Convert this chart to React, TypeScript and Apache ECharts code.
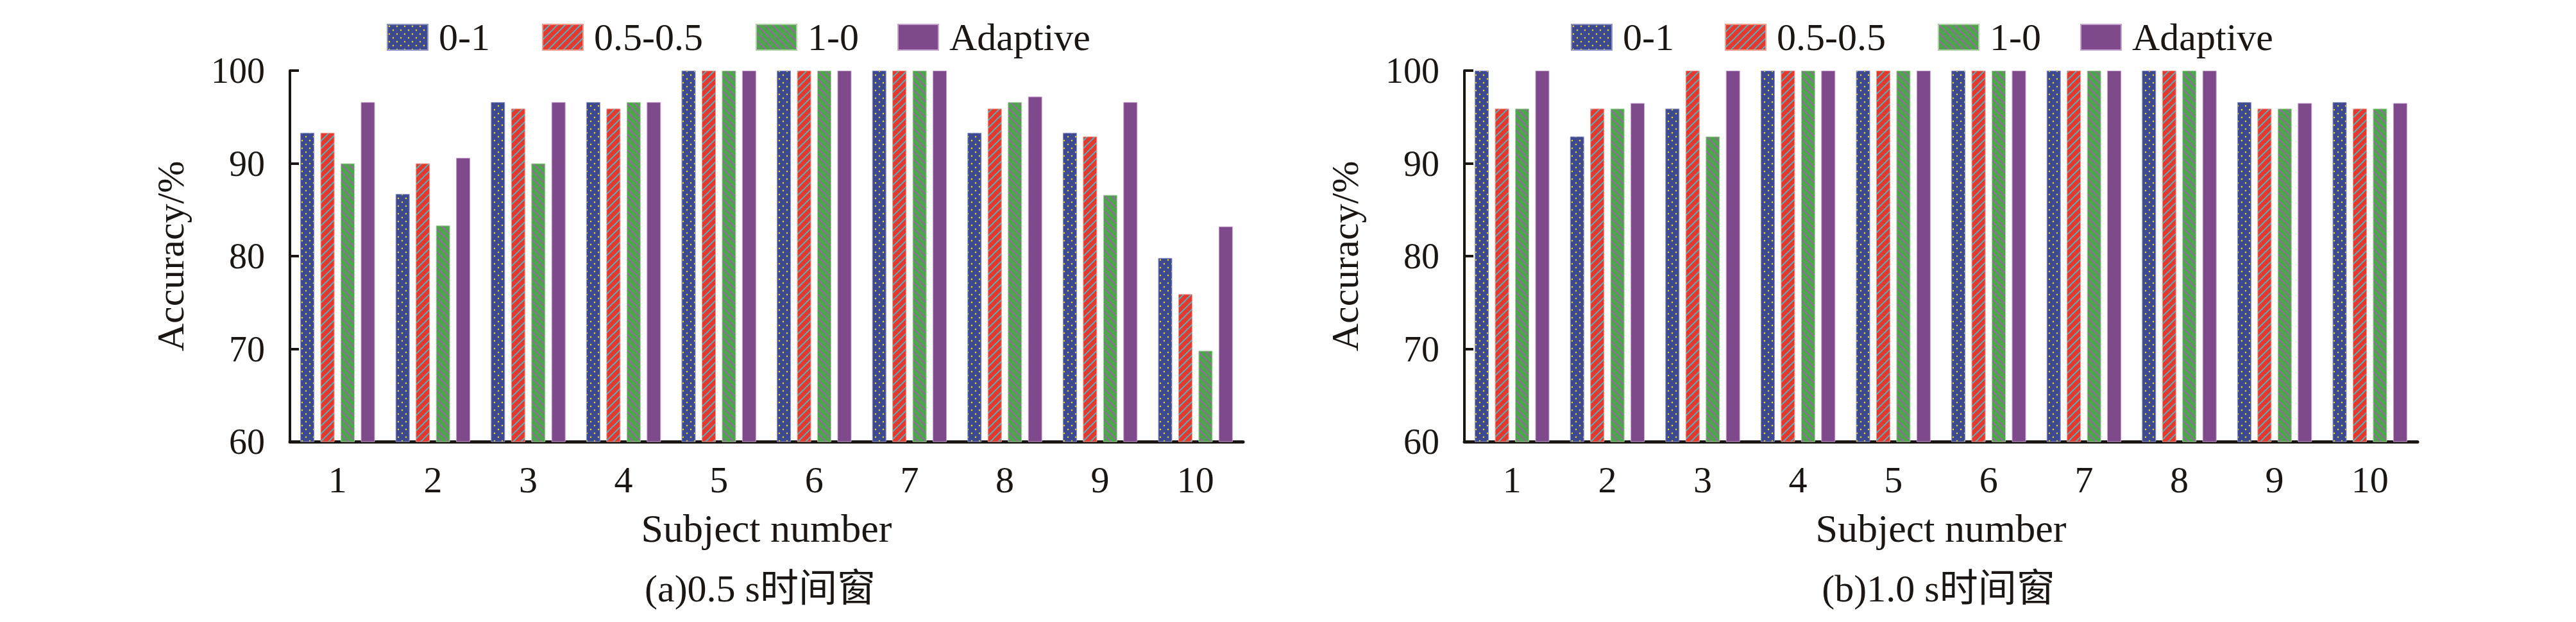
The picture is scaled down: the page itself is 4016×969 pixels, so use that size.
import React, { useEffect, useRef } from 'react';
import * as echarts from 'echarts';

const categories = ['1', '2', '3', '4', '5', '6', '7', '8', '9', '10'];
const seriesNames = ['0-1', '0.5-0.5', '1-0', 'Adaptive'];

// (a) 0.5 s time window
const win05_01 = [93.3, 86.7, 96.6, 96.6, 100, 100, 100, 93.3, 93.3, 79.8];
const win05_0505 = [93.3, 90.0, 95.9, 95.9, 100, 100, 100, 95.9, 92.9, 75.9];
const win05_10 = [90.0, 83.3, 90.0, 96.6, 100, 100, 100, 96.6, 86.6, 69.8];
const win05_adaptive = [96.6, 90.6, 96.6, 96.6, 100, 100, 100, 97.2, 96.6, 83.2];

// (b) 1.0 s time window
const win10_01 = [100, 92.9, 95.9, 100, 100, 100, 100, 100, 96.6, 96.6];
const win10_0505 = [95.9, 95.9, 100, 100, 100, 100, 100, 100, 95.9, 95.9];
const win10_10 = [95.9, 95.9, 92.9, 100, 100, 100, 100, 100, 95.9, 95.9];
const win10_adaptive = [100, 96.5, 100, 100, 100, 100, 100, 100, 96.5, 96.5];

const yMin = 60;
const yMax = 100;
const yInterval = 10;

const xAxisName = 'Subject number';
const yAxisName = 'Accuracy/%';
const captions = ['(a)0.5 s时间窗', '(b)1.0 s时间窗'];

const FONT = "'Liberation Serif', 'Times New Roman', 'Noto Sans CJK SC', serif";
const TEXT = '#1a1613';

function makePattern(kind: string) {
  const c = document.createElement('canvas');
  const s = 12;
  c.width = s;
  c.height = s;
  const ctx = c.getContext('2d')!;
  if (kind === 'dots') {
    ctx.fillStyle = '#3e4a8f';
    ctx.fillRect(0, 0, s, s);
    ctx.fillStyle = '#f2e01e';
    ctx.beginPath();
    ctx.arc(3, 3, 1.2, 0, Math.PI * 2);
    ctx.fill();
    ctx.beginPath();
    ctx.arc(9, 9, 1.2, 0, Math.PI * 2);
    ctx.fill();
  } else if (kind === 'slash') {
    ctx.fillStyle = '#e8382e';
    ctx.fillRect(0, 0, s, s);
    ctx.strokeStyle = '#43bccb';
    ctx.lineWidth = 1.8;
    const segs = [[-2, 2, 2, -2], [0, s, s, 0], [s - 2, s + 2, s + 2, s - 2]];
    segs.forEach(([a, b, c2, d]) => { ctx.beginPath(); ctx.moveTo(a, b); ctx.lineTo(c2, d); ctx.stroke(); });
  } else {
    ctx.fillStyle = '#4ca64a';
    ctx.fillRect(0, 0, s, s);
    ctx.strokeStyle = '#a55cb0';
    ctx.lineWidth = 1.8;
    const segs = [[0, 0, s, s], [-2, s - 2, 2, s + 2], [s - 2, -2, s + 2, 2]];
    segs.forEach(([a, b, c2, d]) => { ctx.beginPath(); ctx.moveTo(a, b); ctx.lineTo(c2, d); ctx.stroke(); });
  }
  return { image: c, repeat: 'repeat' };
}

export default function App() {
  const ref = useRef<HTMLDivElement>(null);
  useEffect(() => {
    document.body.style.margin = '0';
    const chart = echarts.init(ref.current!, undefined, { renderer: 'svg' });
    const fills = [makePattern('dots'), makePattern('slash'), makePattern('backslash'), '#7f4a8c'];
    const borders = ['#8f94c8', '#f29a8c', '#a9d39f', '#c7a3cf'];
    const panels = [
      [win05_01, win05_0505, win05_10, win05_adaptive],
      [win10_01, win10_0505, win10_10, win10_adaptive],
    ];
    const grids = [
      { left: 452, right: 4016 - 1938, top: 110, bottom: 969 - 688 },
      { left: 2283, right: 4016 - 3769, top: 110, bottom: 969 - 688 },
    ];
    const legendLefts = [
      [603, 845, 1178, 1399],
      [2449, 2689, 3021, 3243],
    ];
    const captionX = [1185, 3022];

    const xAxis = grids.map((_, i) => ({
      type: 'category',
      gridIndex: i,
      data: categories,
      axisLine: { show: true, lineStyle: { color: TEXT, width: 5 } },
      axisTick: { show: false },
      axisLabel: { fontSize: 58, fontFamily: FONT, color: TEXT, margin: 30 },
      name: xAxisName,
      nameLocation: 'middle',
      nameGap: 104,
      nameTextStyle: { fontSize: 62, fontFamily: FONT, color: TEXT },
    }));
    const yAxis = grids.map((_, i) => ({
      type: 'value',
      gridIndex: i,
      min: yMin,
      max: yMax,
      interval: yInterval,
      axisLine: { show: true, lineStyle: { color: TEXT, width: 4 } },
      axisTick: { show: true, inside: true, length: 14, lineStyle: { color: TEXT, width: 4 } },
      splitLine: { show: false },
      axisLabel: { fontSize: 56, fontFamily: FONT, color: TEXT, margin: 39 },
      name: yAxisName,
      nameLocation: 'middle',
      nameGap: 156,
      nameRotate: 90,
      nameTextStyle: { fontSize: 60, fontFamily: FONT, color: TEXT },
    }));
    const series: any[] = [];
    panels.forEach((vals, p) => {
      vals.forEach((data, k) => {
        series.push({
          type: 'bar',
          name: seriesNames[k],
          xAxisIndex: p,
          yAxisIndex: p,
          data,
          barWidth: 22,
          barGap: '43%',
          itemStyle: { color: fills[k], borderColor: borders[k], borderWidth: 1 },
        });
      });
    });
    const legend: any[] = [];
    legendLefts.forEach((lefts) => {
      lefts.forEach((l, k) => {
        legend.push({
          data: [seriesNames[k]],
          left: l - 5,
          top: 23,
          icon: 'rect',
          itemWidth: 63,
          itemHeight: 40,
          selectedMode: false,
          textStyle: { fontSize: 60, fontFamily: FONT, color: TEXT, padding: [0, 0, 0, 12] },
        });
      });
    });
    const graphic = captions.map((t, i) => ({
      type: 'text',
      x: captionX[i],
      y: 917,
      style: {
        text: t,
        font: `60px ${FONT}`,
        fill: TEXT,
        textAlign: 'center',
        textVerticalAlign: 'middle',
      },
    }));
    chart.setOption({
      animation: false,
      backgroundColor: '#ffffff',
      grid: grids,
      xAxis,
      yAxis,
      legend,
      series,
      graphic,
    } as any);
    return () => chart.dispose();
  }, []);
  return <div ref={ref} style={{ width: 4016, height: 969 }} />;
}
